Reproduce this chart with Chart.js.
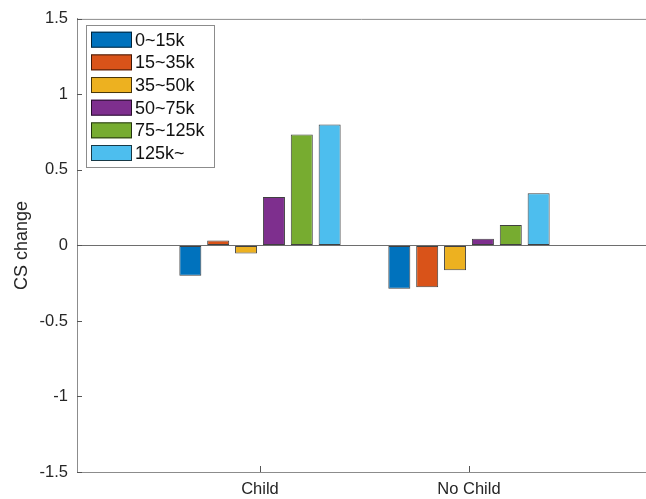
<!DOCTYPE html>
<html>
<head>
<meta charset="utf-8">
<script src="https://cdn.jsdelivr.net/npm/chart.js@4.4.0/dist/chart.umd.min.js"></script>
<style>
  html, body { margin: 0; padding: 0; background: #fff; overflow: hidden; }
  #wrap { width: 646px; height: 499px; }
</style>
</head>
<body>
<div id="wrap"><canvas id="csChart" width="646" height="499"></canvas></div>
<script>
// data
const categories = ["Child", "No Child"];
const seriesNames = ["0~15k", "15~35k", "35~50k", "50~75k", "75~125k", "125k~"];
const seriesColors = ["#0072BD", "#D95319", "#EDB120", "#7E2F8E", "#77AC30", "#4DBEEE"];
const inc0to15 = [-0.20, -0.287];
const inc15to35 = [0.033, -0.276];
const inc35to50 = [-0.053, -0.164];
const inc50to75 = [0.32, 0.044];
const inc75to125 = [0.735, 0.136];
const inc125up = [0.80, 0.346];
const yTicks = [-1.5, -1, -0.5, 0, 0.5, 1, 1.5];

const seriesValues = [inc0to15, inc15to35, inc35to50, inc50to75, inc75to125, inc125up];
const textColor = "#262626";
const axisColor = "#8c8c8c";
const fontFam = "'Liberation Sans', Arial, Helvetica, sans-serif";

const datasets = seriesValues.map(function (vals, i) {
  return {
    label: seriesNames[i],
    data: vals.map(function (v, j) { return { x: j + 1, y: v }; }),
    backgroundColor: seriesColors[i],
    borderColor: "rgba(0,0,0,0.75)",
    borderWidth: 1,
    borderSkipped: false,
    categoryPercentage: 0.8,
    barPercentage: 0.79,
  };
});

// inward tick marks, top border line, legend box in the upper left
const matlabAxes = {
  id: "matlabAxes",
  afterDatasetsDraw(chart) {
    const ctx = chart.ctx;
    const area = chart.chartArea;
    const xs = chart.scales.x;
    const ys = chart.scales.y;
    ctx.save();
    ctx.lineWidth = 1;
    ctx.strokeStyle = axisColor;
    ctx.beginPath();
    ctx.moveTo(area.left, area.top + 0.5);
    ctx.lineTo(area.right, area.top + 0.5);
    ctx.stroke();
    ctx.strokeStyle = "#555";
    ctx.beginPath();
    for (const t of yTicks) {
      const py = Math.round(ys.getPixelForValue(t)) + 0.5;
      ctx.moveTo(area.left, py);
      ctx.lineTo(area.left + 5, py);
    }
    for (let j = 0; j < categories.length; j++) {
      const px = Math.round(xs.getPixelForValue(j + 1)) + 0.5;
      ctx.moveTo(px, area.bottom);
      ctx.lineTo(px, area.bottom - 6);
    }
    ctx.stroke();

    // legend
    const bx = 86, by = 25, bw = 128, bh = 142;
    ctx.fillStyle = "#fff";
    ctx.fillRect(bx, by, bw, bh);
    ctx.strokeStyle = axisColor;
    ctx.strokeRect(bx + 0.5, by + 0.5, bw, bh);
    ctx.font = "18px " + fontFam;
    ctx.textBaseline = "middle";
    ctx.textAlign = "left";
    for (let i = 0; i < seriesNames.length; i++) {
      const cy = 39.7 + i * 22.66;
      ctx.fillStyle = seriesColors[i];
      ctx.fillRect(91, cy - 8, 41, 16);
      ctx.strokeStyle = "rgba(0,0,0,0.7)";
      ctx.strokeRect(91.5, cy - 7.5, 40, 15);
      ctx.fillStyle = "#111";
      ctx.fillText(seriesNames[i], 135, cy + 1);
    }
    ctx.restore();
  },
};

const config = {
  type: "bar",
  data: { datasets: datasets },
  options: {
    responsive: false,
    animation: false,
    layout: { padding: { top: 15, right: 0, left: 0, bottom: 0 } },
    plugins: { legend: { display: false }, tooltip: { enabled: false } },
    scales: {
      x: {
        type: "linear",
        offset: false,
        min: 0.1244,
        max: 2.847,
        afterBuildTicks: function (scale) {
          scale.ticks = categories.map(function (c, j) { return { value: j + 1 }; });
        },
        afterFit: function (scale) { scale.height = 27; },
        ticks: {
          autoSkip: false,
          maxRotation: 0,
          padding: 8,
          color: textColor,
          font: { family: fontFam, size: 16.5 },
          callback: function (v) { return categories[v - 1]; },
        },
        grid: { display: false, drawTicks: false },
        border: { display: true, color: axisColor, width: 1 },
      },
      y: {
        min: -1.5,
        max: 1.5,
        afterBuildTicks: function (scale) {
          scale.ticks = yTicks.map(function (v) { return { value: v }; });
        },
        afterFit: function (scale) { scale.width = 77; },
        ticks: {
          padding: 9,
          color: textColor,
          font: { family: fontFam, size: 16.5 },
          callback: function (v) { return String(v); },
        },
        grid: {
          drawTicks: false,
          color: function (c) { return c.tick && c.tick.value === 0 ? "#6e6e6e" : "rgba(0,0,0,0)"; },
        },
        border: { display: true, color: axisColor, width: 1 },
        title: {
          display: true,
          text: "CS change",
          color: textColor,
          font: { family: fontFam, size: 18 },
          padding: { top: 11, bottom: 0 },
        },
      },
    },
  },
  plugins: [matlabAxes],
};

const chart = new Chart(document.getElementById("csChart"), config);
</script>
</body>
</html>
